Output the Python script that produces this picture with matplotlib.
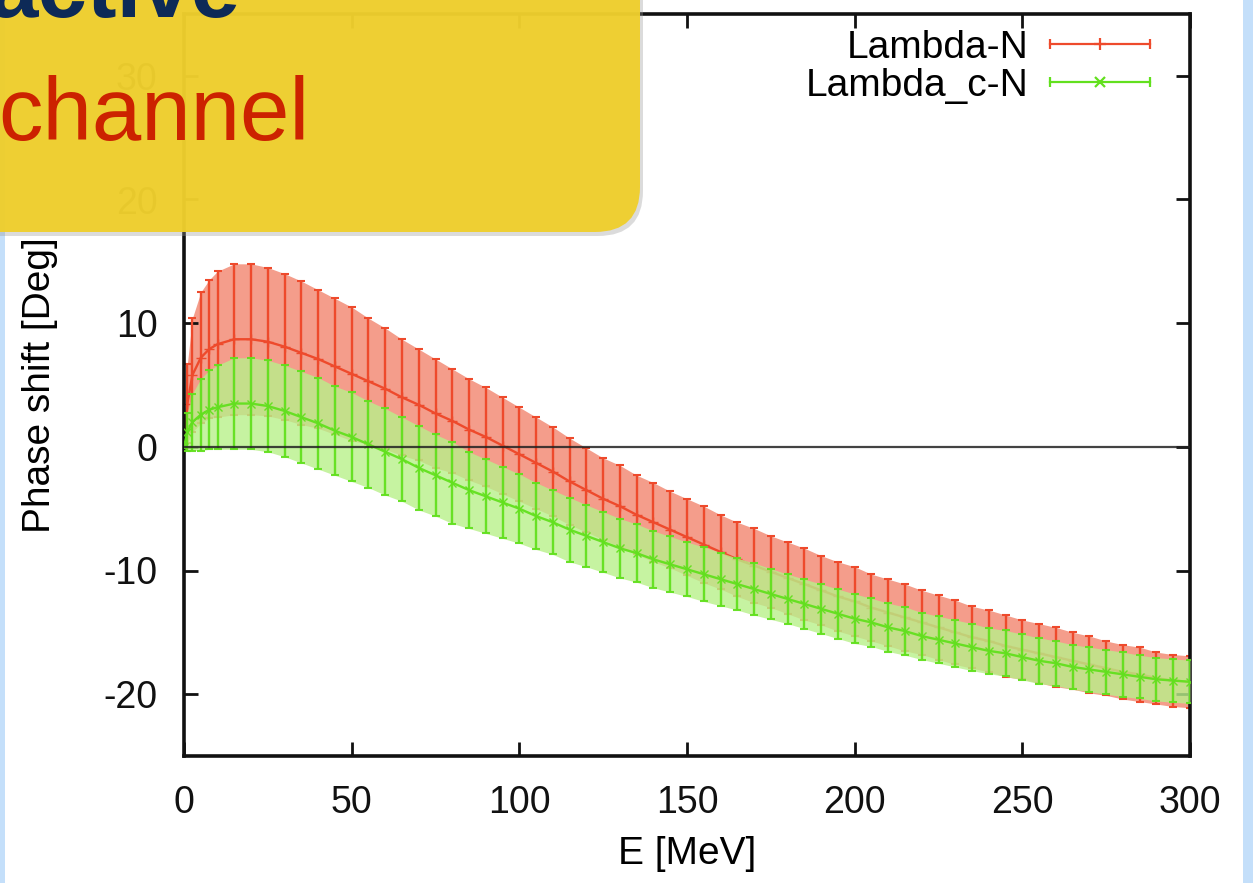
import numpy as np
import matplotlib.pyplot as plt
from matplotlib.patches import FancyBboxPatch, Rectangle
from matplotlib.lines import Line2D
from matplotlib.legend_handler import HandlerLine2D, HandlerTuple

# energy grid [MeV]
energy = [0, 1, 2.5, 5, 7.5, 10, 15, 20, 25, 30, 35, 40, 45, 50, 55, 60, 65, 70,
          75, 80, 85, 90, 95, 100, 105, 110, 115, 120, 125, 130, 135, 140, 145,
          150, 155, 160, 165, 170, 175, 180, 185, 190, 195, 200, 205, 210, 215,
          220, 225, 230, 235, 240, 245, 250, 255, 260, 265, 270, 275, 280, 285,
          290, 295, 300]

# Lambda-N phase shift and error [deg]
lam_n = [0.0, 3.5, 5.8, 7.2, 7.9, 8.3, 8.7, 8.7, 8.5, 8.1, 7.6, 7.1, 6.5, 5.9,
         5.3, 4.7, 4.0, 3.4, 2.7, 2.1, 1.4, 0.8, 0.1, -0.6, -1.3, -2.0, -2.8,
         -3.5, -4.2, -4.8, -5.5, -6.1, -6.7, -7.3, -7.9, -8.5, -9.1, -9.6, -10.1,
         -10.6, -11.1, -11.6, -12.1, -12.5, -13.0, -13.4, -13.8, -14.2, -14.6,
         -15.0, -15.4, -15.7, -16.1, -16.4, -16.7, -17.0, -17.3, -17.6, -17.9,
         -18.2, -18.4, -18.7, -18.9, -19.0]
lam_n_err = [0.0, 3.2, 4.6, 5.3, 5.6, 5.9, 6.1, 6.1, 6.0, 5.9, 5.8, 5.6, 5.5,
             5.4, 5.1, 4.9, 4.7, 4.5, 4.4, 4.2, 4.1, 4.0, 3.9, 3.8, 3.7, 3.6,
             3.5, 3.4, 3.3, 3.3, 3.2, 3.2, 3.1, 3.1, 3.1, 3.0, 3.0, 3.0, 2.9,
             2.9, 2.9, 2.8, 2.8, 2.8, 2.7, 2.7, 2.7, 2.6, 2.6, 2.6, 2.5, 2.5,
             2.5, 2.4, 2.4, 2.4, 2.3, 2.3, 2.2, 2.2, 2.2, 2.1, 2.1, 2.1]

# Lambda_c-N phase shift and error [deg]
lamc_n = [0.0, 1.2, 2.0, 2.6, 3.0, 3.2, 3.5, 3.5, 3.3, 2.9, 2.4, 1.9, 1.3, 0.8,
          0.2, -0.4, -1.0, -1.7, -2.3, -2.9, -3.5, -4.0, -4.5, -5.0, -5.6, -6.1,
          -6.7, -7.2, -7.7, -8.2, -8.6, -9.1, -9.5, -9.9, -10.3, -10.7, -11.1,
          -11.5, -11.9, -12.3, -12.7, -13.1, -13.5, -13.9, -14.2, -14.6, -14.9,
          -15.3, -15.6, -15.9, -16.2, -16.5, -16.7, -17.0, -17.3, -17.5, -17.8,
          -18.0, -18.2, -18.4, -18.6, -18.8, -18.9, -19.0]
lamc_n_err = [0.0, 1.5, 2.3, 2.9, 3.2, 3.4, 3.7, 3.7, 3.7, 3.7, 3.7, 3.7, 3.6,
              3.6, 3.5, 3.5, 3.4, 3.4, 3.3, 3.3, 3.1, 3.0, 2.9, 2.8, 2.7, 2.6,
              2.6, 2.5, 2.45, 2.4, 2.35, 2.3, 2.25, 2.2, 2.2, 2.15, 2.1, 2.1,
              2.05, 2.0, 2.0, 2.0, 2.0, 2.0, 1.95, 1.95, 1.95, 1.9, 1.9, 1.9,
              1.9, 1.85, 1.85, 1.85, 1.85, 1.8, 1.8, 1.8, 1.8, 1.8, 1.75, 1.75,
              1.75, 1.75]

xticks = [0, 50, 100, 150, 200, 250, 300]
yticks = [-20, -10, 0, 10, 20, 30]

RED = '#ee4a2c'
RED_PALE = '#f49d8b'
GREEN = '#62e01e'
GREEN_PALE = '#b8f08a'

plt.rcParams['font.family'] = ['Liberation Sans', 'DejaVu Sans']
plt.rcParams['axes.unicode_minus'] = False

W, H = 1253, 883
fig = plt.figure(figsize=(W / 100, H / 100), dpi=100)
ax = fig.add_axes([184 / W, 1 - 756 / H, (1190 - 184) / W, (756 - 14) / H])

e = np.array(energy)
r, re = np.array(lam_n), np.array(lam_n_err)
g, ge = np.array(lamc_n), np.array(lamc_n_err)

# red set
ax.fill_between(e, r - re, r + re, color=RED_PALE, lw=0, zorder=1)
ax.errorbar(e, r, yerr=re, color=RED, ecolor=RED, elinewidth=1.7,
            capsize=3, capthick=1.5, marker='+', ms=7, lw=1.7, zorder=2)

# green set (semi transparent so the red lines show through a bit)
ax.fill_between(e, g - ge, g + ge, color=GREEN_PALE, lw=0, alpha=0.8, zorder=3)
ax.errorbar(e, g, yerr=ge, color=GREEN, ecolor=GREEN, elinewidth=1.7,
            capsize=3, capthick=1.5, marker='x', ms=6, lw=1.7, alpha=0.95,
            zorder=4)

ax.axhline(0, color='#222222', lw=1.6, alpha=0.85, zorder=5)

ax.set_xlim(0, 300)
ax.set_ylim(-25, 35)
ax.set_xticks(xticks)
ax.set_yticks(yticks)
ax.tick_params(direction='in', length=10, width=2, top=True, right=True,
               labelsize=27, colors='#111111')
ax.tick_params(axis='x', pad=21)
ax.tick_params(axis='y', pad=19)
for s in ax.spines.values():
    s.set_linewidth(2.6)
    s.set_color('#111111')

ax.set_xlabel('E [MeV]', fontsize=28)
ax.xaxis.set_label_coords(0.5, -(836 - 756) / 742)
ax.set_ylabel('Phase shift [Deg]', fontsize=28)
ax.yaxis.set_label_coords(-(184 - 58) / 1006, 0.5)

# gnuplot-like legend samples: line with end ticks and a point in the middle
red_caps = Line2D([], [], color=RED, lw=1.6, marker='|', ms=7, mew=1.6)
red_pt = Line2D([], [], color=RED, ls='none', marker='+', ms=9, mew=1.6)
green_caps = Line2D([], [], color=GREEN, lw=1.6, marker='|', ms=7, mew=1.6)
green_pt = Line2D([], [], color=GREEN, ls='none', marker='x', ms=7, mew=1.6)
hmap = {tuple: HandlerTuple(ndivide=1, pad=0),
        red_caps: HandlerLine2D(numpoints=2),
        green_caps: HandlerLine2D(numpoints=2),
        red_pt: HandlerLine2D(numpoints=1),
        green_pt: HandlerLine2D(numpoints=1)}
ax.legend(handles=[(red_caps, red_pt), (green_caps, green_pt)],
          labels=['Lambda-N', 'Lambda_c-N'], handler_map=hmap,
          loc='upper right', bbox_to_anchor=(0.987, 1.0), frameon=False,
          fontsize=28, markerfirst=False, handlelength=3.17, handletextpad=0.25,
          labelspacing=0.06, borderaxespad=0)

# overlay in pixel coordinates: slide frame and yellow callout
ov = fig.add_axes([0, 0, 1, 1], zorder=10)
ov.set_xlim(0, W)
ov.set_ylim(H, 0)
ov.axis('off')
ov.patch.set_alpha(0)

ov.add_patch(Rectangle((0, 0), 5, H, color='#c4dffa', lw=0))
ov.add_patch(Rectangle((1243, 0), 10, H, color='#c4dffa', lw=0))

ov.add_patch(FancyBboxPatch((-60 + 3, -60 + 4), 700, 292,
                            boxstyle='round,pad=0,rounding_size=45',
                            color='#9a9a9a', alpha=0.35, lw=0))
ov.add_patch(FancyBboxPatch((-60, -60), 700, 292,
                            boxstyle='round,pad=0,rounding_size=45',
                            color='#efcf2c', alpha=0.96, lw=0))
ov.text(-12, 17, 'active', fontsize=64, fontweight='bold', color='#0d2a57',
        ha='left', va='baseline')
ov.text(-2, 140, 'channel', fontsize=64, color='#cc2200',
        ha='left', va='baseline')

fig.savefig('out.png', dpi=100)
